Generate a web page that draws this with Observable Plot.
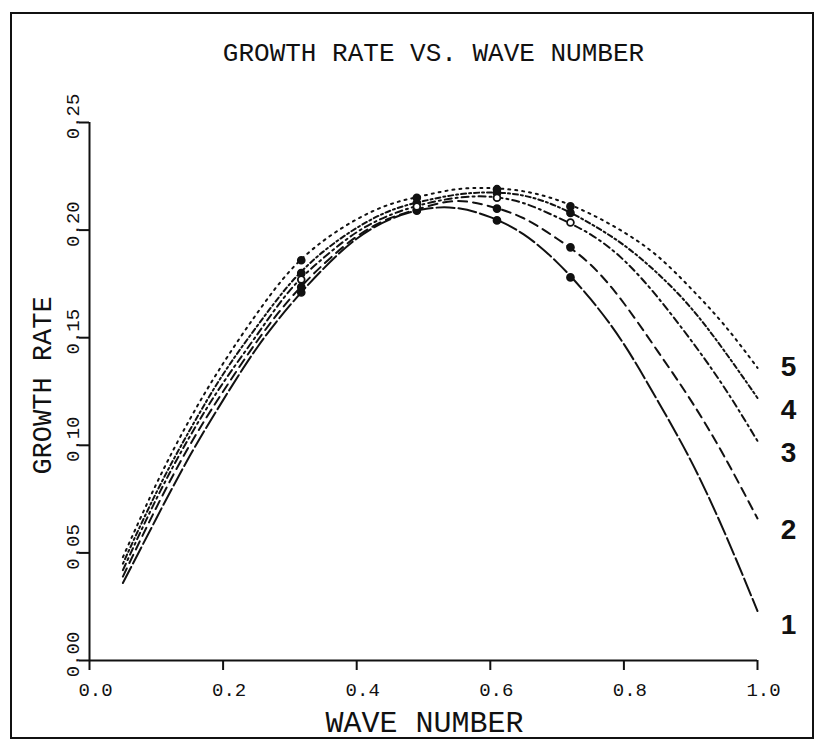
<!DOCTYPE html>
<html>
<head>
<meta charset="utf-8">
<script src="https://cdn.jsdelivr.net/npm/d3@7"></script>
<script src="https://cdn.jsdelivr.net/npm/@observablehq/plot@0.6"></script>
<style>
  body { margin: 0; background: #fff; }
  #chart { position: relative; width: 823px; height: 751px; }
  #chart svg { position: absolute; left: 0; top: 0; }
  #border { position: absolute; left: 10px; top: 12px; width: 800px; height: 723px; border: 2px solid #111; }
</style>
</head>
<body>
<div id="chart"><div id="border"></div></div>
<script>
// Wave numbers at which each growth-rate curve is sampled
const waveNumber = [0.05, 0.10, 0.15, 0.20, 0.25, 0.30, 0.35, 0.40, 0.45, 0.50,
                    0.55, 0.60, 0.65, 0.70, 0.75, 0.80, 0.85, 0.90, 0.95, 1.00];

// Growth rate for cases 1..5
const growth1 = [0.036, 0.066, 0.095, 0.121, 0.145, 0.165, 0.182, 0.196, 0.205, 0.2097,
                 0.2102, 0.206, 0.198, 0.185, 0.168, 0.147, 0.121, 0.093, 0.060, 0.023];
const growth2 = [0.039, 0.071, 0.100, 0.125, 0.148, 0.168, 0.184, 0.197, 0.2055, 0.2105,
                 0.2135, 0.211, 0.2055, 0.196, 0.184, 0.166, 0.144, 0.121, 0.095, 0.066];
const growth3 = [0.042, 0.075, 0.104, 0.129, 0.151, 0.172, 0.187, 0.199, 0.207, 0.212,
                 0.215, 0.2155, 0.2125, 0.206, 0.198, 0.186, 0.169, 0.149, 0.127, 0.102];
const growth4 = [0.045, 0.078, 0.107, 0.133, 0.155, 0.175, 0.190, 0.201, 0.209, 0.2135,
                 0.2165, 0.2175, 0.216, 0.211, 0.203, 0.193, 0.180, 0.164, 0.144, 0.122];
const growth5 = [0.048, 0.082, 0.112, 0.138, 0.161, 0.181, 0.195, 0.205, 0.212, 0.216,
                 0.219, 0.2195, 0.218, 0.214, 0.2075, 0.199, 0.188, 0.173, 0.156, 0.136];

// Marked points on each curve
const markerWave = [0.317, 0.49, 0.61, 0.72];
const marker1 = [0.171, 0.209, 0.2045, 0.178];
const marker2 = [0.1735, 0.2095, 0.210, 0.192];
const marker3 = [0.177, 0.211, 0.215, 0.2035];
const marker4 = [0.180, 0.2126, 0.2172, 0.208];
const marker5 = [0.186, 0.215, 0.219, 0.211];

// Case labels and the growth level at which each label sits at the right edge
const caseLabels = ["1", "2", "3", "4", "5"];
const caseLabelGrowth = [0.0167, 0.0604, 0.0962, 0.1166, 0.1366];

// Axis ticks
const xTicks = [0.0, 0.2, 0.4, 0.6, 0.8, 1.0];
const yTicks = [0.00, 0.05, 0.10, 0.15, 0.20, 0.25];

const title = "GROWTH RATE VS. WAVE NUMBER";
const xLabel = "WAVE NUMBER";
const yLabel = "GROWTH RATE";

const series = [growth1, growth2, growth3, growth4, growth5];
const markers = [marker1, marker2, marker3, marker4, marker5];
const dashes = ["18,4", "9,6", "7,4,2,4", "2,3,5,3", "2,5"];

const rows = series.flatMap((vals, i) =>
  vals.map((g, j) => ({curve: i + 1, k: waveNumber[j], g})));
const markRows = markers.flatMap((vals, i) =>
  vals.map((g, j) => ({curve: i + 1, k: markerWave[j], g})));
const labelRows = caseLabels.map((t, i) => ({t, k: 1.0, g: caseLabelGrowth[i]}));

const mono = "'Liberation Mono', 'DejaVu Sans Mono', monospace";
const ink = "#111";

const plot = Plot.plot({
  width: 823,
  height: 751,
  marginLeft: 89,
  marginRight: 66,
  marginTop: 122,
  marginBottom: 91,
  style: {background: "transparent", color: ink},
  x: {domain: [0, 1]},
  y: {domain: [0, 0.25], axis: null},
  marks: [
    // axis lines
    Plot.ruleY([0], {stroke: ink, strokeWidth: 2}),
    Plot.ruleX([0], {stroke: ink, strokeWidth: 2}),
    // x ticks and labels
    Plot.axisX(xTicks, {tickSize: 10, strokeWidth: 2, tickFormat: () => "", label: null}),
    Plot.text(xTicks, {x: d => d, text: d => d3.format(".1f")(d), frameAnchor: "bottom",
      lineAnchor: "top", dy: 22, dx: 6, fontSize: 19, fontFamily: mono, fill: ink}),
    // y ticks and rotated labels
    Plot.axisY(yTicks, {tickSize: 10, strokeWidth: 2, tickFormat: () => "", label: null}),
    Plot.text(yTicks, {y: d => d, text: d => d3.format(".2f")(d), frameAnchor: "left",
      rotate: -90, lineAnchor: "bottom", textAnchor: "middle", dx: -11, dy: -6,
      fontSize: 19, fontFamily: mono, fill: ink}),
    // curves
    ...dashes.map((da, i) => Plot.line(rows.filter(d => d.curve === i + 1), {
      x: "k", y: "g", curve: "natural", stroke: ink, strokeWidth: 2, strokeDasharray: da
    })),
    // marked points (case 3 drawn open)
    Plot.dot(markRows.filter(d => d.curve !== 3), {x: "k", y: "g", r: 3.6, fill: ink, stroke: ink}),
    Plot.dot(markRows.filter(d => d.curve === 3), {x: "k", y: "g", r: 3.4, fill: "white", stroke: ink, strokeWidth: 1.8}),
    // case labels
    Plot.text(labelRows, {x: "k", y: "g", text: "t", dx: 31, fontSize: 28, fontWeight: "bold",
      fontFamily: "'Liberation Sans', Arial, sans-serif", fill: ink}),
    // titles
    Plot.text([title], {frameAnchor: "top", dy: -70, dx: 10, lineAnchor: "middle",
      fontSize: 26, fontFamily: mono, fill: ink}),
    Plot.text([xLabel], {frameAnchor: "bottom", dy: 62, dx: 1, lineAnchor: "middle",
      fontSize: 30, letterSpacing: -1, fontFamily: mono, fill: ink}),
    Plot.text([yLabel], {frameAnchor: "left", rotate: -90, lineAnchor: "bottom", textAnchor: "middle",
      dx: -39, dy: -6, fontSize: 27, fontFamily: mono, fill: ink})
  ]
});

document.getElementById("chart").appendChild(plot);
</script>
</body>
</html>
